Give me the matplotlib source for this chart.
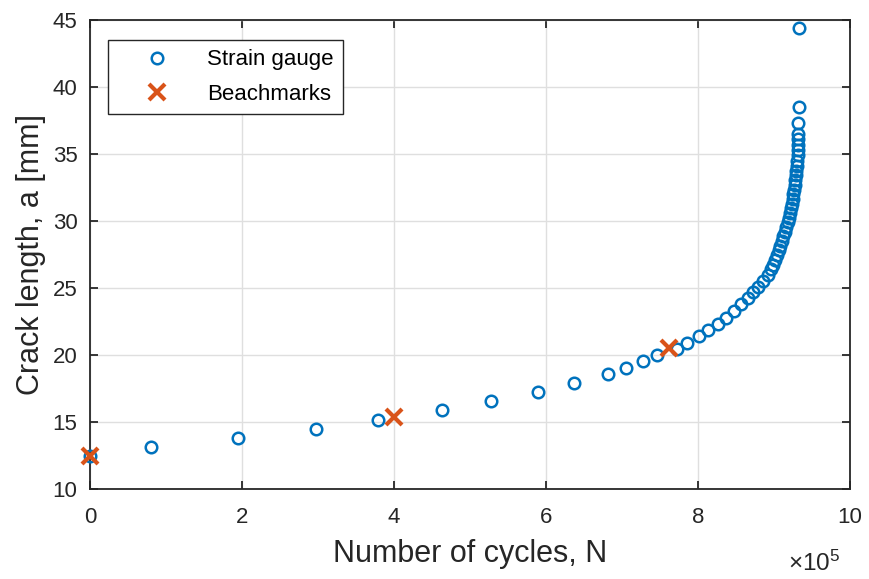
import matplotlib
matplotlib.use("Agg")
import matplotlib.pyplot as plt
from matplotlib.ticker import MultipleLocator

plt.rcParams['font.family'] = ['Liberation Sans', 'DejaVu Sans']
plt.rcParams['mathtext.fontset'] = 'custom'
plt.rcParams['mathtext.rm'] = 'Liberation Sans'
plt.rcParams['mathtext.default'] = 'regular'

# Strain gauge readings: cycles (x 1e5) and crack length (mm)
gauge_cycles = [
    0.00, 0.80, 1.95, 2.97, 3.79, 4.63, 5.27, 5.89, 6.37, 6.82, 7.05, 7.27, 7.46,
    7.72, 7.86, 8.01, 8.13, 8.26, 8.37, 8.47, 8.57, 8.66, 8.73, 8.79, 8.86, 8.92,
    8.96, 8.99, 9.01, 9.04, 9.06, 9.085, 9.105, 9.125, 9.145, 9.16, 9.18, 9.195,
    9.21, 9.225, 9.235, 9.245, 9.255, 9.265, 9.272, 9.28, 9.287, 9.293, 9.30,
    9.305, 9.31, 9.313, 9.316, 9.318, 9.32, 9.322, 9.325, 9.33,
]
gauge_length = [
    12.5, 13.13, 13.8, 14.48, 15.17, 15.87, 16.57, 17.24, 17.93, 18.6, 19.05, 19.53, 20.0,
    20.43, 20.92, 21.4, 21.85, 22.33, 22.76, 23.28, 23.78, 24.23, 24.68, 25.1, 25.52, 25.97,
    26.4, 26.75, 27.1, 27.45, 27.8, 28.15, 28.5, 28.85, 29.2, 29.55, 29.9, 30.25,
    30.6, 30.95, 31.3, 31.65, 32.0, 32.35, 32.7, 33.05, 33.4, 33.75, 34.1,
    34.5, 34.9, 35.3, 35.7, 36.1, 36.5, 37.3, 38.5, 44.4,
]

# Beachmark measurements
beach_cycles = [0.0, 4.0, 7.62]
beach_length = [12.5, 15.4, 20.5]

ink = '#262626'

fig = plt.figure(figsize=(8.7, 5.79), dpi=100)
ax = fig.add_axes([90 / 870, 1 - 489 / 579, 760 / 870, 469 / 579])

ax.plot(gauge_cycles, gauge_length, linestyle='none', marker='o',
        markersize=8.3, markerfacecolor='none', markeredgecolor='#0072BD',
        markeredgewidth=1.8, label='Strain gauge', zorder=3, clip_on=False)
ax.plot(beach_cycles, beach_length, linestyle='none', marker='x',
        markersize=11, markeredgecolor='#D95319', markeredgewidth=3,
        label='Beachmarks', zorder=4, clip_on=False)

ax.set_xlim(0, 10)
ax.set_ylim(10, 45)
ax.xaxis.set_major_locator(MultipleLocator(2))
ax.yaxis.set_major_locator(MultipleLocator(5))
ax.grid(True, color='#dfdfdf', linewidth=1.0)
ax.set_axisbelow(True)

for s in ax.spines.values():
    s.set_color(ink)
    s.set_linewidth(1.3)
ax.tick_params(direction='in', length=6, width=1.3, color=ink,
               top=True, right=True, labelsize=16, labelcolor=ink)
ax.tick_params(axis='x', pad=13)
ax.tick_params(axis='y', pad=9)

ax.set_xlabel('Number of cycles, N', fontsize=22, color=ink, labelpad=8)
ax.set_ylabel('Crack length, a [mm]', fontsize=22, color=ink, labelpad=5)

fig.text(840 / 870, 1 - 571 / 579, '×10$^{5}$', fontsize=17.5,
         color=ink, ha='right', va='baseline')

leg = ax.legend(loc='upper left', bbox_to_anchor=(18 / 760, 1 - 20 / 469), fontsize=16,
                frameon=True, fancybox=False, edgecolor=ink,
                handletextpad=0.47, borderpad=0.42, labelspacing=0.6,
                handlelength=3.56, borderaxespad=0)
leg.get_frame().set_linewidth(1.0)
leg.get_frame().set_alpha(1.0)

fig.savefig('out.png', dpi=100)
